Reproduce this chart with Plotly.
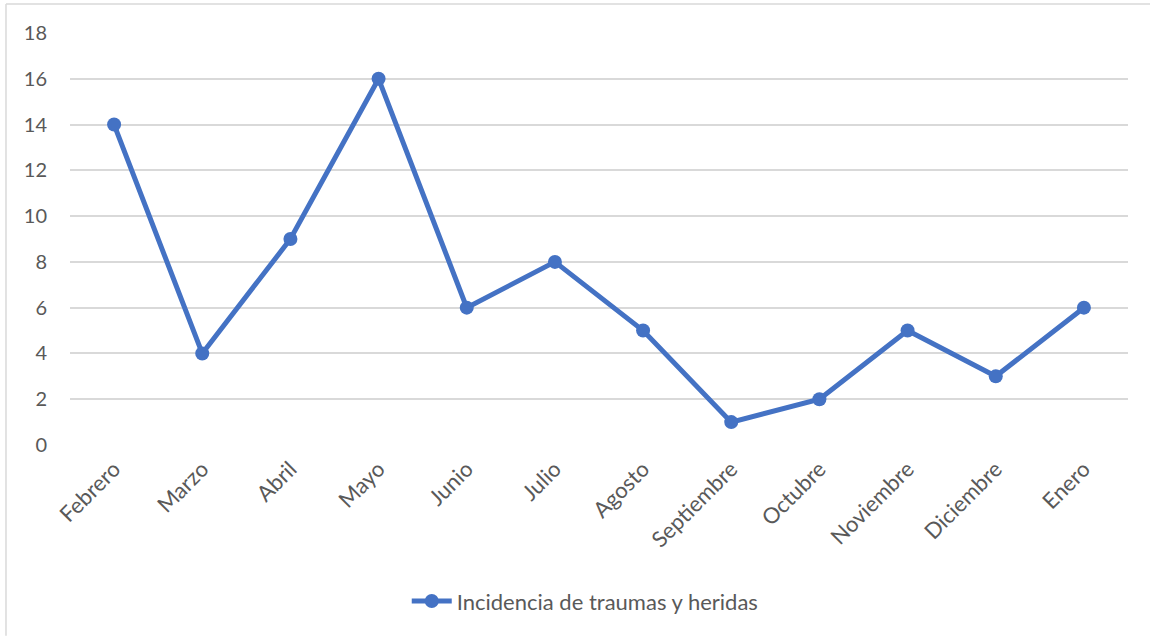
import plotly.graph_objects as go

months = ["Febrero", "Marzo", "Abril", "Mayo", "Junio", "Julio", "Agosto",
          "Septiembre", "Octubre", "Noviembre", "Diciembre", "Enero"]
incidencia = [14, 4, 9, 16, 6, 8, 5, 1, 2, 5, 3, 6]
y_ticks = [0, 2, 4, 6, 8, 10, 12, 14, 16, 18]
series_name = "Incidencia de traumas y heridas"

blue = "#4472C4"
grid = "#D9D9D9"
txt = "#595959"
font_family = "Lato, 'Open Sans', sans-serif"

fig = go.Figure()
fig.add_trace(go.Scatter(
    x=months, y=incidencia, name=series_name,
    mode="lines+markers",
    line=dict(color=blue, width=5),
    marker=dict(color=blue, size=14),
))

fig.update_layout(
    width=1150, height=637,
    margin=dict(l=70, r=22, t=33, b=192),
    paper_bgcolor="white", plot_bgcolor="white",
    font=dict(family=font_family, size=20, color=txt),
    showlegend=True,
    legend=dict(orientation="h", x=0.487, xanchor="center", y=-0.379, yanchor="middle",
                font=dict(size=22, color=txt), itemwidth=40),
    xaxis=dict(
        type="category", tickangle=-45, showgrid=False, zeroline=False,
        showline=False, ticks="", tickfont=dict(size=22, color=txt),
        ticklabelstandoff=6,
        range=[-0.5, len(months) - 0.5],
    ),
    yaxis=dict(
        range=[0, 18], tickvals=y_ticks, showgrid=True, gridcolor=grid, gridwidth=1.5,
        zeroline=False, showline=False, ticks="", ticklabelstandoff=22,
        tickfont=dict(size=20, color=txt),
    ),
    shapes=[
        dict(type="line", xref="paper", yref="paper", x0=-0.0605, x1=1.03,
             y0=1.0704, y1=1.0704, line=dict(color=grid, width=1.5)),
        dict(type="line", xref="paper", yref="paper", x0=-0.0605, x1=-0.0605,
             y0=1.0704, y1=-0.463, line=dict(color=grid, width=1.5)),
    ],
)

fig.write_html(
    "out.html",
    config={"displayModeBar": False},
    post_script="document.body.style.margin='0';document.body.style.overflow='hidden';",
)
